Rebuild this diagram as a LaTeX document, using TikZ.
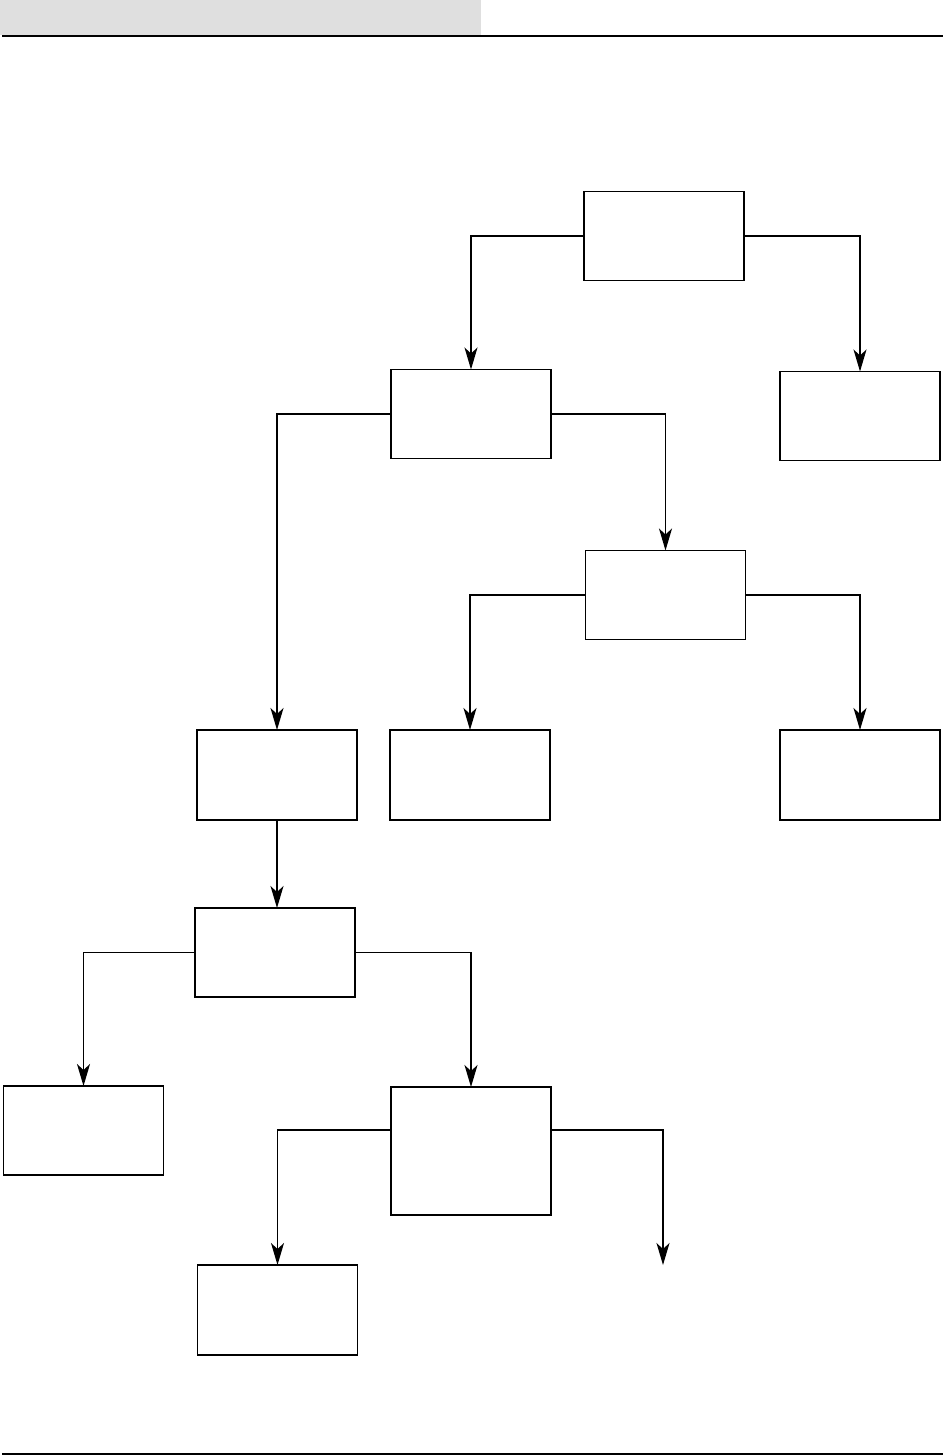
\documentclass[tikz,border=0pt]{standalone}
\usetikzlibrary{arrows.meta}
\begin{document}
\begin{tikzpicture}[x=1pt,y=-1pt,
  box/.style={draw,line width=1.4pt,rectangle,inner sep=0pt,outer sep=0pt,minimum width=160pt,minimum height=89pt},
  conn/.style={line width=1.4pt,-{Stealth[length=22pt,width=13pt,inset=6pt]}},
  rule/.style={line width=2pt}]
\useasboundingbox (0,0) rectangle (944,1456);
\fill[fill={rgb,255:red,223;green,223;blue,223}] (0,0) rectangle (481,35);
\draw[rule] (2,35.5) -- (943,35.5);
\draw[rule] (2,1454) -- (943,1454);
\node[box] (b1) at (664,236) {};
\node[box] (b2) at (471,414) {};
\node[box] (b3) at (860,416) {};
\node[box] (b4) at (665.5,595) {};
\node[box,minimum height=90pt] (b5) at (277,775) {};
\node[box,minimum height=90pt] (b6) at (470,775) {};
\node[box,minimum height=90pt] (b7) at (860,775) {};
\node[box] (b8) at (275,952.5) {};
\node[box] (b9) at (83.5,1130.5) {};
\node[box,minimum height=128pt] (b10) at (471,1151) {};
\node[box,minimum height=90pt] (b11) at (277.5,1310) {};
\coordinate (e) at (663,1265);
\draw[conn] (b1.west) -| (b2.north);
\draw[conn] (b1.east) -| (b3.north);
\draw[conn] (b2.west) -| (b5.north);
\draw[conn] (b2.east) -| (b4.north);
\draw[conn] (b4.west) -| (b6.north);
\draw[conn] (b4.east) -| (b7.north);
\draw[conn] (b5.south) -- (b5.south |- b8.north);
\draw[conn] (b8.west) -| (b9.north);
\draw[conn] (b8.east) -| (b10.north);
\draw[conn] ([yshift=21pt]b10.west) -| (b11.north);
\draw[conn] ([yshift=21pt]b10.east) -| (e);
\end{tikzpicture}
\end{document}
